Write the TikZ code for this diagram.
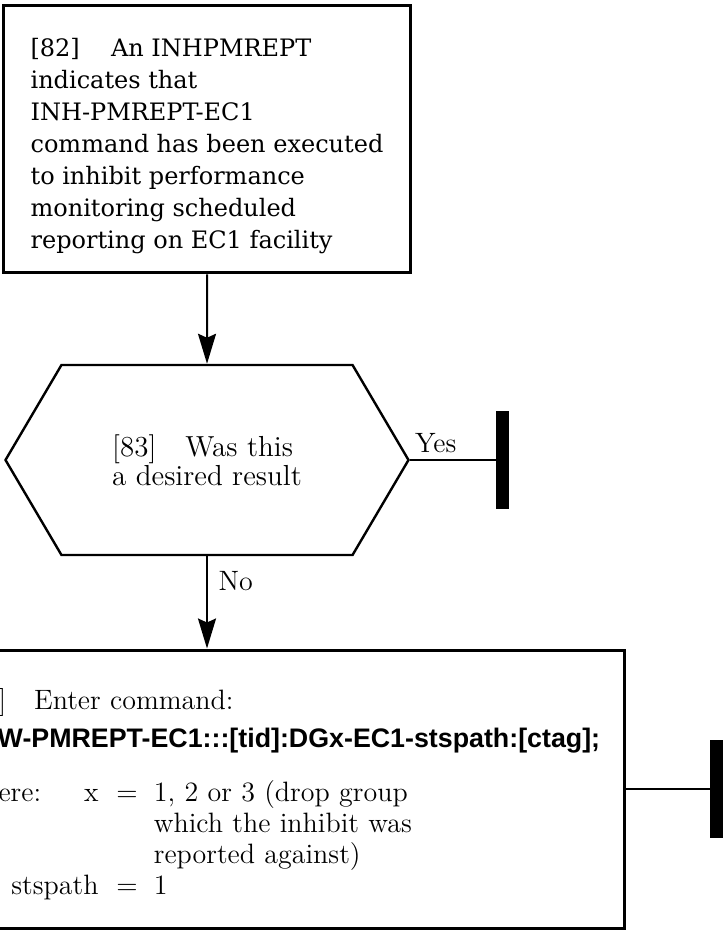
\documentclass[tikz,border=0pt]{standalone}
\usepackage{fontspec}
\usetikzlibrary{arrows.meta,shapes.symbols,positioning}
\newfontfamily\stepfont{DejaVu Serif}
\newfontfamily\cmdfont{Liberation Sans}

\begin{document}
\begin{tikzpicture}[x=0.5pt,y=-0.5pt,
  >={Stealth[length=15pt,width=9pt,inset=2pt]},
  flow/.style={line width=1pt},
  procbox/.style={draw,line width=1.5pt,rectangle,align=left,inner xsep=13.5pt},
  decision/.style={draw,line width=1.2pt,signal,signal to=east and west,
    signal pointer angle=119,align=left},
  stopbar/.style={fill=black,minimum width=6.5pt,minimum height=49pt,inner sep=0pt}]
\useasboundingbox (0,0) rectangle (727,930);
\clip (0,0) rectangle (727,930);

\node[procbox,minimum width=201pt,minimum height=133.5pt,
  font={\stepfont\fontsize{12}{16}\selectfont}] (inh) at (207,139.5)
  {\rule{0pt}{16pt}[82]\hspace{1.3em}An INHPMREPT\\
   indicates that\\
   INH-PMREPT-EC1\\
   command has been executed\\
   to inhibit performance\\
   monitoring scheduled\\
   reporting on EC1 facility};

\node[decision,minimum width=201.5pt,minimum height=95pt,
  font={\fontsize{14.5}{14.5}\selectfont}] (dec) at (207,460)
  {[83]\quad Was this\\a desired result};
\node[stopbar,right=43pt of dec.east] (yesstop) {};

\node[procbox,anchor=east,text width=317pt,minimum height=139pt,
  font={\fontsize{14}{15.5}\selectfont}] (cmd) at (626,789)
  {\rule{0pt}{17.5pt}[84]\quad Enter command:\\[3.5pt]
   \mbox{\cmdfont\bfseries\fontsize{13.4}{15.5}\selectfont ALW-PMREPT-EC1:::[tid]:DGx-EC1-stspath:[ctag];}\\[11.5pt]
   \begin{tabular}[t]{@{}r@{\hspace{9pt}}c@{\hspace{8pt}}l@{}}
   \makebox[67.5pt][l]{where:\hfill x} & = & 1, 2 or 3 (drop group\\
    & & which the inhibit was\\
    & & reported against)\\
   stspath & = & 1
   \end{tabular}};
\node[stopbar,right=42pt of cmd.east] (cmdstop) {};

\draw[flow,->] (inh) -- (dec);
\draw[flow] (dec.east) -- node[pos=0.3,above,font={\fontsize{14}{14}\selectfont}] {Yes} (yesstop);
\draw[flow,->] (dec.south) -- node[pos=0.27,right,xshift=2pt,font={\fontsize{14}{14}\selectfont}] {No}
  (dec.south |- cmd.north);
\draw[flow] (cmd.east) -- (cmdstop);
\end{tikzpicture}
\end{document}
